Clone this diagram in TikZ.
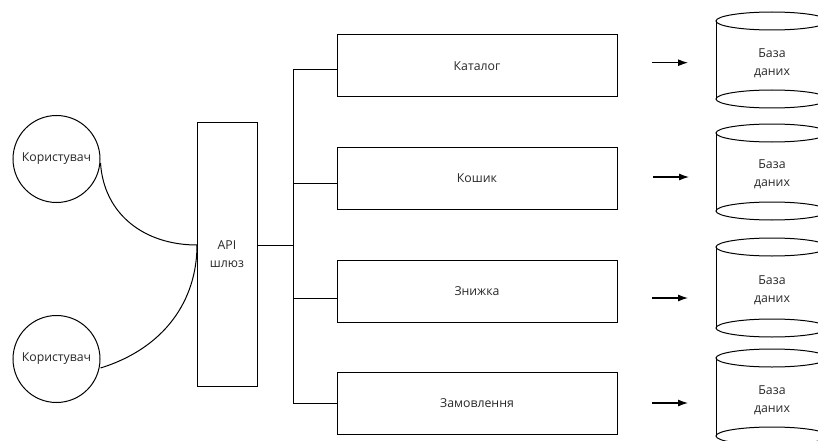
\documentclass[tikz,border=0pt]{standalone}
\usepackage{fontspec}
\setmainfont{Open Sans}
\usetikzlibrary{arrows.meta}
\definecolor{txt}{RGB}{40,40,40}
\begin{document}
\begin{tikzpicture}[x=1pt,y=-1pt,
  every node/.style={font=\fontsize{12.3}{18}\selectfont, text=txt, align=center},
  ln/.style={draw=black, line width=1pt},
  usr/.style={ln, circle, minimum size=87pt, inner sep=0pt},
  svc/.style={ln, rectangle, minimum width=280pt, minimum height=62pt, inner sep=0pt},
  gwbox/.style={ln, rectangle, minimum width=60pt, minimum height=264pt, inner sep=0pt},
  arr/.style={line width=1.1pt, -{Latex[length=10pt,width=7pt]}},
  dblabel/.style={inner sep=0pt}
]
\useasboundingbox (0,0) rectangle (818,441);
\clip (0,0) rectangle (818,441);

% users
\node[usr] (u1) at (56.5,159) {Користувач};
\node[usr] (u2) at (56.5,359) {Користувач};

% gateway
\node[gwbox] (api) at (227,254) {API\\шлюз};
\coordinate (gin) at (197,245);
\coordinate (gout) at (257,245);

% services
\node[svc] (s1) at (477,66) {Каталог};
\node[svc] (s2) at (477,178.5) {Кошик};
\node[svc] (s3) at (477,291) {Знижка};
\node[svc] (s4) at (477,403) {Замовлення};

% bus
\coordinate (b0) at (293,245);
\coordinate (b1) at (293,70);
\coordinate (b2) at (293,183);
\coordinate (b3) at (293,298);
\coordinate (b4) at (293,403);

% curves user -> gateway
\draw[ln] ([yshift=-4pt]u1.east) .. controls (104,215) and (145,245) .. (gin);
\draw[ln] ([yshift=-9pt]u2.east) .. controls (165,348) and (197,300) .. (gin);

% gateway -> bus
\draw[ln] (gout) -- (b0);
\draw[ln] (b1) -- (b4);
\draw[ln] (b1) -- (s1.west |- b1);
\draw[ln] (b2) -- (s2.west |- b2);
\draw[ln] (b3) -- (s3.west |- b3);
\draw[ln] (b4) -- (s4.west |- b4);

% databases
\foreach \i/\yt/\yb in {1/21/99, 2/133/211, 3/247/328, 4/358/436}{
  \draw[ln] (772,\yt) ellipse [x radius=56, y radius=9];
  \draw[ln] (772,\yb) ellipse [x radius=56, y radius=9];
  \draw[ln] (716,\yt) -- (716,\yb);
  \draw[ln] (828,\yt) -- (828,\yb);
}
\node[dblabel] (d1) at (772,63.5) {База\\даних};
\node[dblabel] (d2) at (772,174) {База\\даних};
\node[dblabel] (d3) at (772,290) {База\\даних};
\node[dblabel] (d4) at (772,400) {База\\даних};

% arrows
\coordinate (a1s) at (652,62.7); \coordinate (a1e) at (688,62.7);
\coordinate (a2s) at (653,177);  \coordinate (a2e) at (689,177);
\coordinate (a3s) at (652,298);  \coordinate (a3e) at (688,298);
\coordinate (a4s) at (652,403);  \coordinate (a4e) at (688,403);
\draw[arr] (a1s) -- (a1e);
\draw[arr] (a2s) -- (a2e);
\draw[arr] (a3s) -- (a3e);
\draw[arr] (a4s) -- (a4e);
\end{tikzpicture}
\end{document}
